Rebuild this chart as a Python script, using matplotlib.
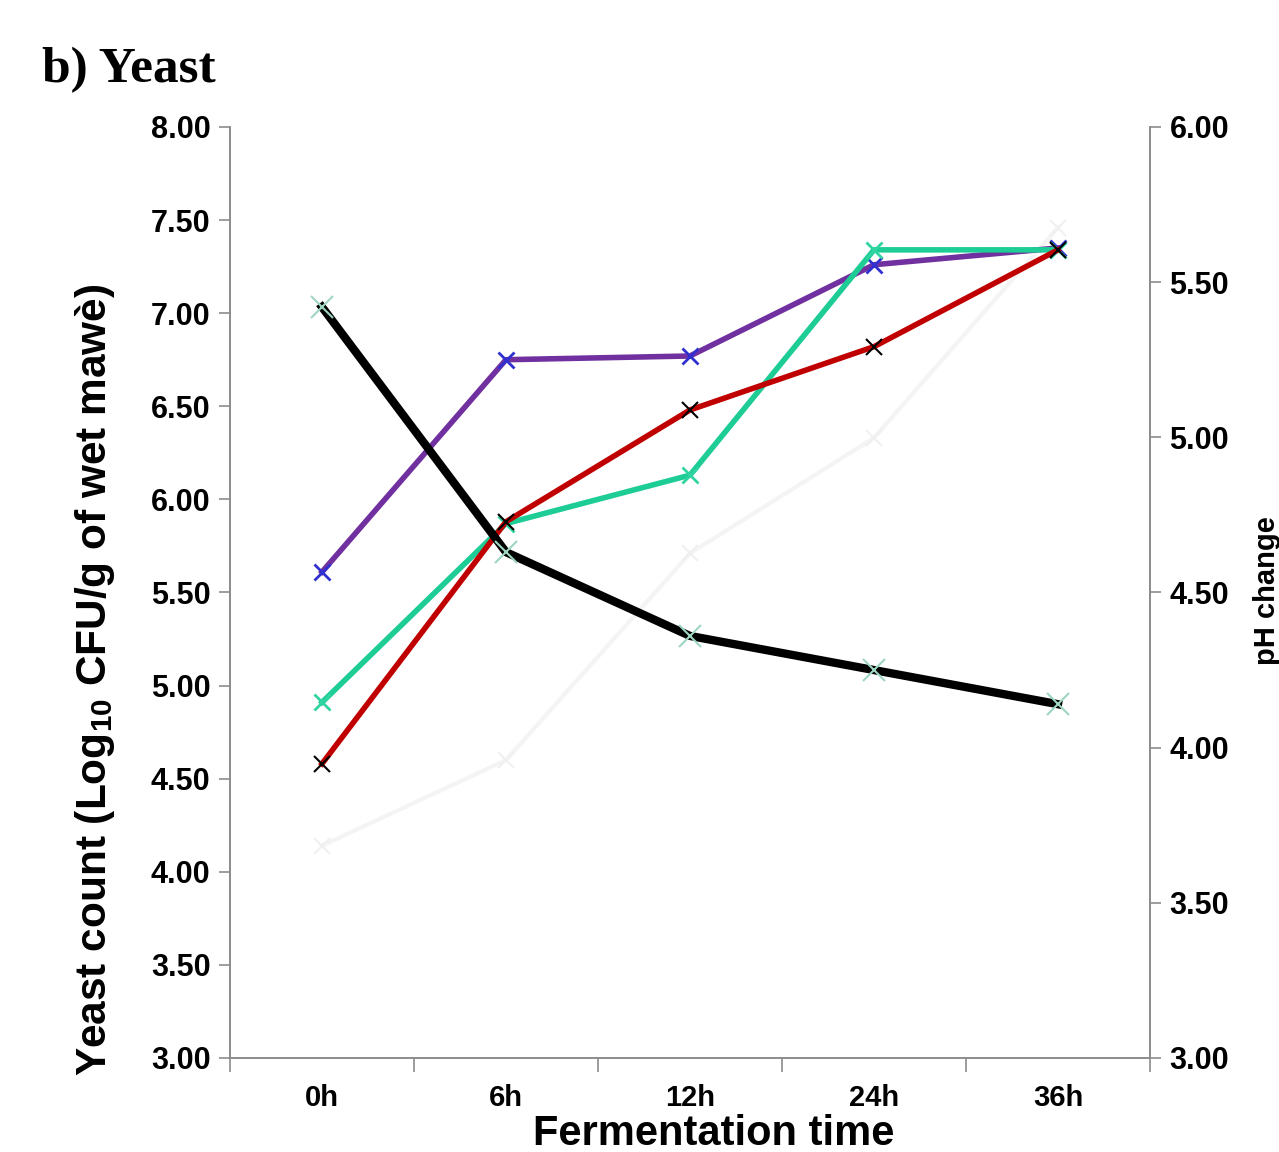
#!/usr/bin/env python3
"""
Yeast count and pH during fermentation
"""
import numpy as np
import matplotlib
matplotlib.use('Agg')
import matplotlib.pyplot as plt

times = ['0h', '6h', '12h', '24h', '36h']
purple_vals = [5.61, 6.75, 6.77, 7.26, 7.35]
green_vals = [4.91, 5.87, 6.13, 7.34, 7.34]
red_vals = [4.58, 5.88, 6.48, 6.82, 7.34]
faint_vals = [4.14, 4.60, 5.71, 6.33, 7.46]
ph_vals = [5.42, 4.63, 4.36, 4.25, 4.14]

left_ticks = np.arange(3.0, 8.01, 0.5)
right_ticks = np.arange(3.0, 6.01, 0.5)

plt.rcParams['font.family'] = ['Liberation Sans', 'DejaVu Sans']
plt.rcParams['font.weight'] = 'bold'
plt.rcParams['mathtext.default'] = 'regular'

grey = '#8c8c8c'

fig = plt.figure(figsize=(12.79, 11.52), dpi=100)
ax = fig.add_axes([0.1798, 0.0816, 0.7193, 0.8082])
ax2 = ax.twinx()

x = np.arange(len(times))
ax.plot(x, faint_vals, color='#f4f4f4', lw=3, marker='x', ms=12,
        mec='#f0f0f0', mew=1.5, zorder=1)
ax.plot(x, purple_vals, color='#7030a0', lw=4, marker='x', ms=12,
        mec='#3030d0', mew=2, zorder=3)
ax.plot(x, green_vals, color='#1ecc96', lw=4, marker='x', ms=12,
        mec='#2fd4a0', mew=2, zorder=3)
ax.plot(x, red_vals, color='#c00000', lw=4, marker='x', ms=12,
        mec='black', mew=1.5, zorder=4)
ax2.plot(x, ph_vals, color='black', lw=6, marker='x', ms=16,
         mec='#9ed6c0', mew=1.5, zorder=5)

ax.set_xlim(-0.5, 4.5)
ax.set_ylim(3.0, 8.0)
ax2.set_ylim(3.0, 6.0)

ax.set_yticks(left_ticks)
ax.set_yticklabels(['%.2f' % v for v in left_ticks])
ax2.set_yticks(right_ticks)
ax2.set_yticklabels(['%.2f' % v for v in right_ticks])

ax.set_xticks(x)
ax.set_xticklabels(times)
ax.set_xticks(np.arange(-0.5, 4.6, 1.0), minor=True)
ax.tick_params(axis='x', which='major', length=0, pad=19, labelsize=21)
ax.tick_params(axis='x', which='minor', length=10, width=1.2,
               color=grey, direction='out')
ax.tick_params(axis='y', length=8, width=1.2, color=grey, pad=6,
               labelsize=22)
ax2.tick_params(axis='y', length=8, width=1.2, color=grey, pad=6,
                labelsize=22)

for a in (ax, ax2):
    a.spines['top'].set_visible(False)
    for s in ('left', 'right', 'bottom'):
        a.spines[s].set_color(grey)
        a.spines[s].set_linewidth(1.2)

ax.set_xlabel('Fermentation time', fontsize=30, fontweight='bold')
ax.xaxis.set_label_coords(0.526, -0.06)
ax.set_ylabel('Yeast count (Log$_{10}$ CFU/g of wet mawè)',
              fontsize=30.5, fontweight='bold')
ax.yaxis.set_label_coords(-0.123, 0.406)
ax2.set_ylabel('pH change', fontsize=21, fontweight='bold')
ax2.yaxis.set_label_coords(1.112, 0.502)

fig.text(42 / 1279, 1 - 82 / 1152, 'b) Yeast', fontsize=37,
         fontweight='bold', family='Liberation Serif', va='baseline')

fig.savefig('out.png', dpi=100)
